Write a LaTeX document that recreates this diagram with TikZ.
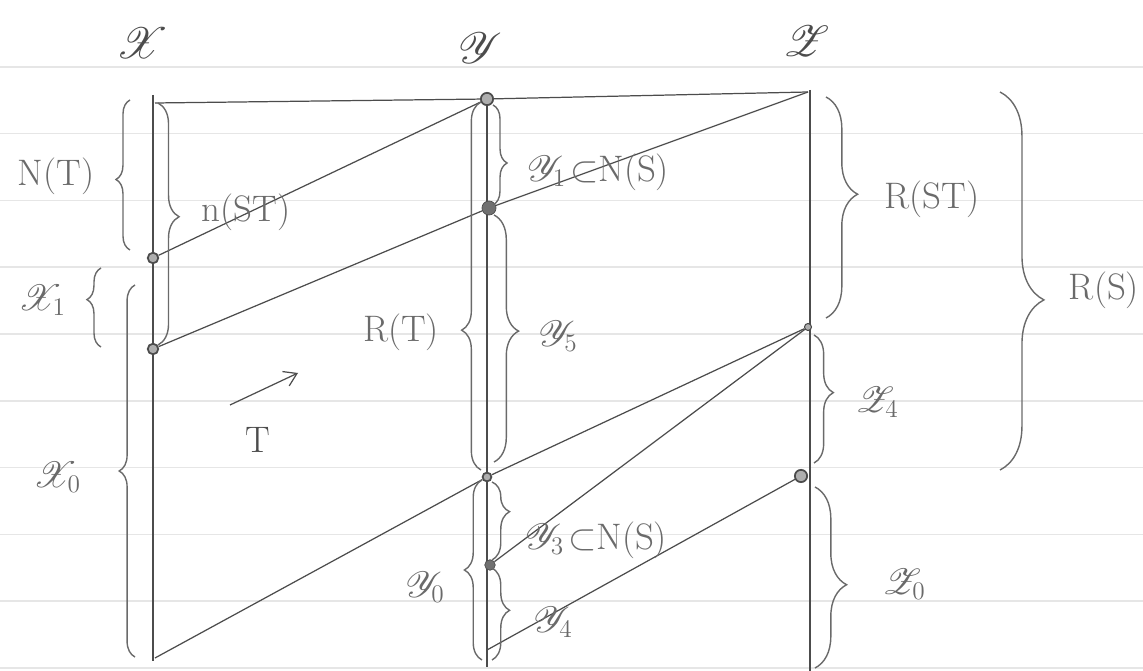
\documentclass[tikz,border=0pt]{standalone}
\usepackage{amssymb,mathrsfs}
\usetikzlibrary{decorations.pathreplacing,arrows.meta}
\newcommand\Px{0.02cm}
\definecolor{ink}{HTML}{4C4C4C}
\definecolor{pencil}{HTML}{6A6A6A}
\definecolor{ruling}{HTML}{E6E6E6}
\tikzset{
  axis/.style={
    draw = ink,
    line width = 0.6pt
  },
  orbit/.style={
    draw = ink,
    line width = 0.7pt
  },
  curly/.style 2 args={
    draw = pencil,
    line width = 0.8pt,
    decorate,
    decoration = {brace, amplitude=#1, aspect=#2}
  },
  dot/.style={
    shape = circle,
    inner sep = 0pt,
    minimum size = 6pt,
    draw = ink,
    fill = ink!80
  },
  dotempty/.style={
    shape = circle,
    inner sep = 0pt,
    minimum size = 6pt,
    draw = ink,
    line width = 1pt,
    fill = ink!45
  },
  lbl/.style={
    text = pencil,
    inner sep = 1pt,
    font = \fontsize{21}{24}\selectfont
  },
  head/.style={
    text = ink,
    inner sep = 1pt,
    font = \fontsize{26}{30}\selectfont
  }
}
\begin{document}
\begin{tikzpicture}[x=\Px, y=-\Px]
    \useasboundingbox (0,0) rectangle (1143,671);
    % ruled paper
    \foreach \r in {1,...,10}
        \draw[ruling, line width=1pt] (0,66.8*\r) -- (1143,66.8*\r);

    % the three spaces
    \coordinate (Xtop) at (153,95);  \coordinate (Xbot) at (153,661);
    \coordinate (Ytop) at (487,93);  \coordinate (Ybot) at (487,667);
    \coordinate (Ztop) at (810,90);  \coordinate (Zbot) at (810,671);
    \draw[axis] (Xtop) -- (Xbot);
    \draw[axis] (Ytop) -- (Ybot);
    \draw[axis] (Ztop) -- (Zbot);

    \node[head] (hX) at (142,43) {$\mathscr{X}$};
    \node[head] (hY) at (480,48) {$\mathscr{Y}$};
    \node[head] (hZ) at (806,41) {$\mathscr{Z}$};

    % points on the axes
    \coordinate (x0) at (155,103);
    \node[dotempty] (x1) at (153,258) {};
    \node[dotempty] (x2) at (153,349) {};
    \coordinate (x3) at (155,658);
    \node[dotempty, minimum size=7pt] (y0) at (487,99) {};
    \node[dot, minimum size=8pt] (y1) at (489,208) {};
    \node[dotempty, minimum size=5pt] (y2) at (487,477) {};
    \node[dot] (y3) at (490,565) {};
    \coordinate (y4) at (487,650);
    \coordinate (z0) at (808,92);
    \node[dotempty, minimum size=4pt, line width=0.6pt] (z1) at (808,327) {};
    \node[dotempty, minimum size=7pt] (z2) at (801,476) {};

    % orbit segments
    \draw[orbit] (x0) -- (y0) -- (z0);
    \draw[orbit] (x1) -- (y0);
    \draw[orbit] (x2) -- (y1) -- (z0);
    \draw[orbit] (x3) -- (y2) -- (z1);
    \draw[orbit] (y3) -- (z1);
    \draw[orbit] (y4) -- (z2);

    % braces round X
    \draw[curly={8pt}{0.47}] (130,250) -- (130,100);
    \draw[curly={8pt}{0.6}] (101,347) -- (101,268);
    \draw[curly={9pt}{0.5}] (135,657) -- (135,285);
    \draw[curly={12pt}{0.47}] (158,103) -- (158,345);
    \node[lbl] (nT) at (56,176) {N(T)};
    \node[lbl] (X1) at (42,300) {$\mathscr{X}_1$};
    \node[lbl] (X0) at (57,477) {$\mathscr{X}_0$};
    \node[lbl] (nST) at (246,212) {n(ST)};

    % braces round Y
    \draw[curly={11pt}{0.38}] (481,470) -- (481,102);
    \draw[curly={8pt}{0.58}] (493,105) -- (493,205);
    \draw[curly={14pt}{0.47}] (494,215) -- (494,462);
    \draw[curly={10pt}{0.5}] (482,660) -- (482,480);
    \draw[curly={10pt}{0.38}] (492,482) -- (492,560);
    \draw[curly={10pt}{0.46}] (492,568) -- (492,660);
    \node[lbl] (RT) at (401,332) {R(T)};
    \node[lbl] (Y1) at (598,172) {$\mathscr{Y}_1\!\subset$N(S)};
    \node[lbl] (Y5) at (558,336) {$\mathscr{Y}_5$};
    \node[lbl] (Y0) at (425,587) {$\mathscr{Y}_0$};
    \node[lbl] (Y3) at (596,540) {$\mathscr{Y}_3\!\subset$N(S)};
    \node[lbl] (Y4) at (553,622) {$\mathscr{Y}_4$};

    % braces round Z
    \draw[curly={18pt}{0.44}] (826,97) -- (826,318);
    \draw[curly={11pt}{0.45}] (814,335) -- (814,463);
    \draw[curly={18pt}{0.54}] (815,487) -- (815,668);
    \draw[curly={25pt}{0.55}] (1000,92) -- (1000,470);
    \node[lbl] (RST) at (932,199) {R(ST)};
    \node[lbl] (Z4) at (877,402) {$\mathscr{Z}_4$};
    \node[lbl] (Z0) at (904,584) {$\mathscr{Z}_0$};
    \node[lbl] (RS) at (1104,290) {R(S)};

    % the map
    \coordinate (Ta) at (230,405);
    \coordinate (Tb) at (298,373);
    \draw[orbit, -{Straight Barb[length=7pt,width=9pt]}] (Ta) -- (Tb);
    \node[lbl, text=ink] (T) at (258,440) {T};
\end{tikzpicture}
\end{document}
